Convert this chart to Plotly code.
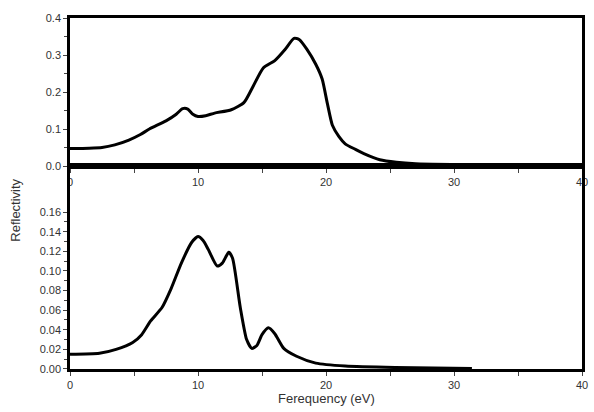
import plotly.graph_objects as go
from plotly.subplots import make_subplots

# Top panel data (energy in eV, reflectivity)
top_energy = [0, 1.5, 2.5, 3.5, 4.6, 5.5, 6.2, 7.5, 8.3, 8.8, 9.2, 9.6, 10.0, 10.6, 11.3,
              12.6, 13.6, 14.3, 15.1, 16.0, 16.8, 17.5, 17.9, 18.5, 19.2, 19.7, 20.1,
              20.5, 21.0, 21.5, 22.3, 23.0, 24.2, 25.5, 27.0, 30.0, 33.0, 36.5]
top_refl = [0.047, 0.048, 0.050, 0.057, 0.070, 0.085, 0.100, 0.122, 0.140, 0.155, 0.154,
            0.140, 0.134, 0.136, 0.143, 0.152, 0.172, 0.215, 0.265, 0.285, 0.315, 0.345,
            0.342, 0.316, 0.275, 0.235, 0.170, 0.110, 0.080, 0.060, 0.045, 0.033, 0.017,
            0.010, 0.006, 0.004, 0.003, 0.002]

# Bottom panel data
bot_energy = [0, 2.3, 3.6, 4.9, 5.6, 6.3, 7.2, 7.9, 8.7, 9.5, 10.0, 10.4, 10.8, 11.5, 11.9,
              12.4, 12.7, 13.3, 13.8, 14.2, 14.6, 15.0, 15.5, 16.0, 16.7, 17.7, 19.2, 21.5,
              25.4, 31.4]
bot_refl = [0.015, 0.016, 0.020, 0.027, 0.035, 0.049, 0.063, 0.082, 0.108, 0.129, 0.135,
            0.131, 0.122, 0.105, 0.108, 0.119, 0.113, 0.063, 0.030, 0.021, 0.024, 0.035,
            0.042, 0.036, 0.021, 0.013, 0.006, 0.003, 0.0015, 0.0005]

x_ticks = [0, 10, 20, 30, 40]
top_y_ticks = [0.0, 0.1, 0.2, 0.3, 0.4]
bot_y_ticks = [0.00, 0.02, 0.04, 0.06, 0.08, 0.10, 0.12, 0.14, 0.16]
bot_y_minor = [0.01, 0.03, 0.05, 0.07, 0.09, 0.11, 0.13, 0.15]

fig = make_subplots(rows=2, cols=1, vertical_spacing=0, row_heights=[0.4217, 0.5783])

fig.add_trace(go.Scatter(x=top_energy, y=top_refl, mode="lines",
                         line=dict(color="black", width=3, shape="spline", smoothing=0.6),
                         showlegend=False), row=1, col=1)
fig.add_trace(go.Scatter(x=bot_energy, y=bot_refl, mode="lines",
                         line=dict(color="black", width=3, shape="spline", smoothing=0.6),
                         showlegend=False), row=2, col=1)

font = dict(family="Liberation Sans, Arial, sans-serif", size=11, color="#333")
axis_common = dict(showline=True, linecolor="black", linewidth=2.5, mirror=True,
                   ticks="outside", ticklen=4, tickcolor="#444", tickwidth=1,
                   showgrid=False, zeroline=False, tickfont=font)

fig.update_xaxes(range=[0, 40], tickvals=x_ticks,
                 minor=dict(dtick=5, ticks="outside", ticklen=4, tickcolor="#444"),
                 showticklabels=True, **axis_common)
fig.update_yaxes(row=1, col=1, range=[0, 0.4], tickvals=top_y_ticks, tickformat=".1f",
                 minor=dict(dtick=0.05, ticks="outside", ticklen=3, tickcolor="#444"),
                 **axis_common)
fig.update_yaxes(row=2, col=1, range=[0, 0.207], tickvals=bot_y_ticks, tickformat=".2f",
                 minor=dict(tickvals=bot_y_minor, ticks="outside", ticklen=3, tickcolor="#444"),
                 **axis_common)

fig.add_annotation(text="Reflectivity", xref="paper", yref="paper", x=-0.106, y=0.453,
                   textangle=-90, showarrow=False, xanchor="center", yanchor="middle",
                   font=dict(family="Liberation Sans, Arial, sans-serif", size=13, color="#333"))
fig.add_annotation(text="Ferequency (eV)", xref="paper", yref="paper", x=0.5, y=-0.083,
                   showarrow=False, xanchor="center", yanchor="middle",
                   font=dict(family="Liberation Sans, Arial, sans-serif", size=13, color="#333"))

fig.update_layout(width=594, height=412, margin=dict(l=70, r=6, t=18, b=43),
                  plot_bgcolor="white", paper_bgcolor="white")

fig.write_html("out.html")
